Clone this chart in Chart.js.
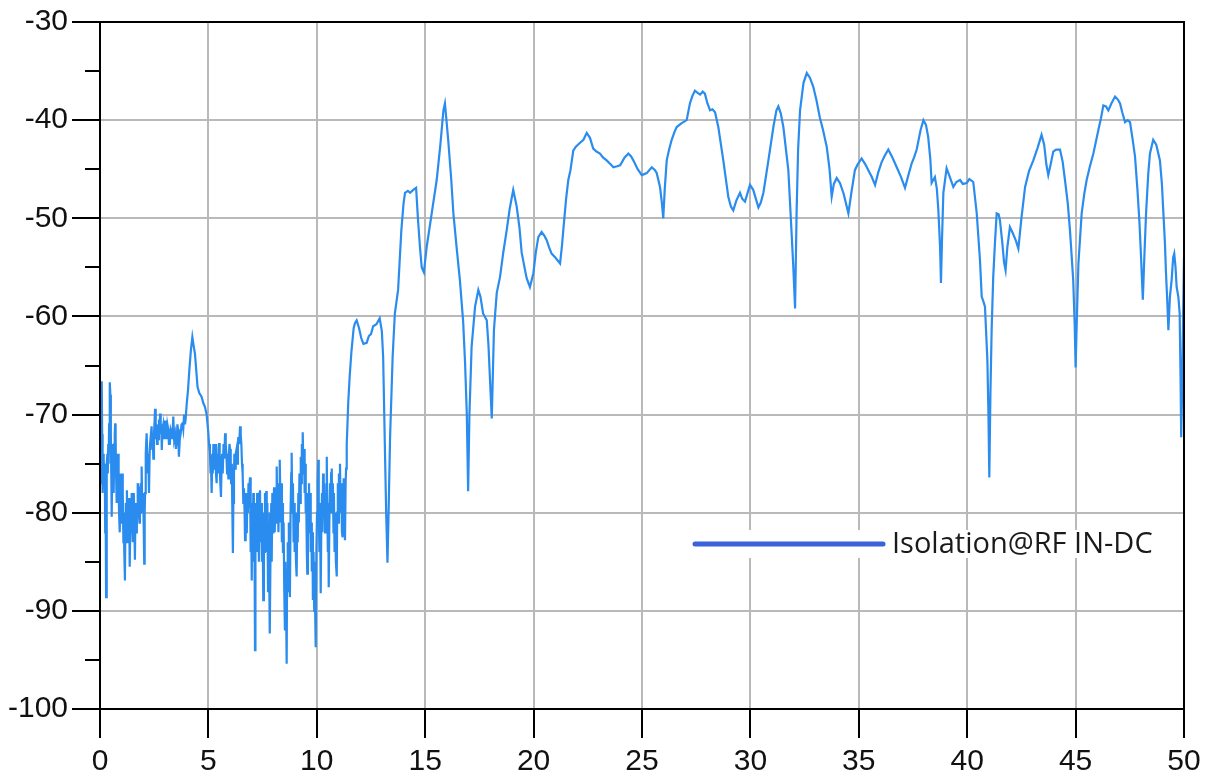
<!DOCTYPE html>
<html>
<head>
<meta charset="utf-8">
<script src="https://cdn.jsdelivr.net/npm/chart.js@4.4.1/dist/chart.umd.min.js"></script>
<style>
html,body{margin:0;padding:0;background:#fff;}
canvas{display:block;}
</style>
</head>
<body>
<canvas id="c" width="1216" height="776"></canvas>
<script>
// ---- data ----
const seriesLabel = "Isolation@RF IN-DC";
const xTicks = [0, 5, 10, 15, 20, 25, 30, 35, 40, 45, 50];
const yTicks = [-100, -90, -80, -70, -60, -50, -40, -30];
const yMinorTicks = [-95, -85, -75, -65, -55, -45, -35];

const freqGHz = [
0.00,0.02,0.04,0.06,0.08,0.10,0.12,0.14,0.16,0.18,
0.20,0.22,0.24,0.26,0.28,0.30,0.32,0.34,0.36,0.38,
0.40,0.42,0.44,0.46,0.48,0.50,0.52,0.54,0.56,0.58,
0.60,0.62,0.64,0.66,0.68,0.70,0.72,0.74,0.76,0.78,
0.80,0.82,0.84,0.86,0.88,0.90,0.92,0.94,0.96,0.98,
1.00,1.02,1.04,1.06,1.08,1.10,1.12,1.15,1.17,1.19,
1.21,1.24,1.26,1.28,1.30,1.32,1.34,1.36,1.38,1.40,
1.42,1.44,1.46,1.48,1.50,1.52,1.54,1.56,1.58,1.61,
1.63,1.65,1.67,1.70,1.72,1.74,1.77,1.79,1.82,1.84,
1.86,1.88,1.90,1.92,1.94,1.97,1.99,2.02,2.04,2.06,
2.08,2.10,2.12,2.15,2.18,2.20,2.23,2.26,2.29,2.31,
2.38,2.41,2.43,2.46,2.49,2.52,2.54,2.57,2.60,2.63,
2.66,2.69,2.72,2.75,2.77,2.80,2.83,2.85,2.88,2.92,
2.96,3.00,3.04,3.07,3.11,3.15,3.18,3.22,3.26,3.30,
3.34,3.38,3.42,3.46,3.50,3.54,3.57,3.60,3.64,3.68,
3.72,3.76,3.80,3.84,3.88,3.92,3.95,4.00,4.06,4.12,
4.19,4.26,4.32,4.38,4.44,4.50,4.58,4.69,4.76,4.84,
4.92,4.97,5.00,
5.03,5.07,5.10,5.12,5.15,5.18,5.20,5.23,5.26,5.29,
5.32,5.35,5.38,5.41,5.44,5.47,5.49,5.52,5.55,5.58,
5.61,5.63,5.66,5.70,5.73,5.77,5.80,5.83,5.86,5.89,
5.92,5.95,5.97,6.00,6.03,6.05,6.08,6.10,6.13,6.15,
6.18,6.20,6.23,6.26,6.30,6.33,6.36,6.38,6.42,6.46,
6.49,6.52,6.55,6.58,6.61,6.64,6.67,6.69,6.71,6.73,
6.75,6.77,6.80,6.82,6.85,6.87,
6.90,6.92,6.95,6.97,7.00,7.02,7.05,7.07,7.10,7.12,
7.15,7.17,7.20,7.22,7.25,7.27,7.30,7.33,7.36,7.38,
7.41,7.44,7.47,7.50,7.53,7.56,7.58,7.61,7.64,7.67,
7.69,7.72,7.75,7.78,7.80,7.82,7.84,7.87,7.90,7.92,
7.95,7.98,8.00,8.03,8.06,8.09,8.12,8.15,8.18,8.20,
8.23,8.26,8.28,8.30,8.33,8.36,8.39,8.41,8.44,8.47,
8.50,8.53,8.55,8.58,8.61,8.63,8.66,8.69,8.71,8.74,
8.76,8.79,8.82,8.84,8.87,8.90,8.93,8.95,8.98,9.01,
9.04,9.07,9.10,9.12,9.15,9.17,9.20,9.23,9.26,9.28,
9.31,9.33,9.35,9.38,9.41,9.44,9.46,9.49,9.51,9.54,
9.56,9.59,9.62,9.64,9.67,9.69,9.72,9.75,9.77,9.80,
9.82,9.85,9.88,9.90,9.93,9.95,9.98,10.01,10.04,10.07,
10.09,10.12,10.15,10.18,10.21,10.24,10.26,10.29,10.32,10.35,
10.38,10.40,10.43,10.46,10.48,10.51,10.53,10.55,10.58,10.61,
10.63,10.66,10.69,10.71,10.74,10.77,10.79,10.82,10.85,10.88,
10.92,10.94,10.97,11.00,11.02,11.05,11.07,11.10,11.13,11.16,
11.19,11.21,11.24,11.27,11.30,11.33,11.35,11.38,11.40,
11.45,11.52,11.60,11.70,11.76,11.84,11.95,12.05,
12.15,12.30,12.40,12.50,12.60,12.75,12.90,13.00,13.06,13.14,13.20,13.26,13.32,13.38,13.50,13.60,13.75,13.90,14.00,14.07,
14.20,14.30,14.45,14.58,14.67,14.76,14.84,14.94,15.07,15.30,15.53,15.70,15.84,15.91,15.98,16.06,16.20,16.30,16.45,16.60,
16.75,16.84,16.92,16.98,17.04,17.14,17.30,17.45,17.55,17.67,17.84,17.92,17.99,18.07,18.12,18.17,18.30,18.45,18.60,18.76,
18.90,19.06,19.22,19.35,19.45,19.58,19.68,19.83,19.99,20.10,20.22,20.37,20.50,20.60,20.72,20.83,21.00,21.22,21.30,21.37,
21.50,21.60,21.70,21.83,21.95,22.14,22.30,22.45,22.60,22.75,22.90,23.06,23.20,23.37,23.55,23.68,23.85,23.99,24.20,24.37,
24.50,24.60,24.80,24.99,25.10,25.22,25.45,25.60,25.68,25.83,25.92,25.98,26.05,26.14,26.25,26.37,26.50,26.60,26.83,27.06,
27.21,27.33,27.44,27.55,27.68,27.80,27.90,28.02,28.14,28.25,28.37,28.52,28.75,28.98,29.10,29.21,29.35,29.52,29.62,29.75,
29.98,30.13,30.25,30.37,30.48,30.60,30.83,31.06,31.20,31.29,31.40,31.52,31.75,31.90,31.98,32.06,32.13,32.20,32.29,32.45,
32.60,32.75,32.90,33.05,33.20,33.35,33.52,33.65,33.75,33.85,33.98,34.13,34.30,34.52,34.65,34.82,34.95,35.13,35.30,35.44,
35.60,35.75,35.90,36.05,36.20,36.36,36.55,36.75,36.95,37.13,37.30,37.44,37.55,37.67,37.85,37.98,38.10,38.20,38.30,38.36,
38.51,38.60,38.67,38.75,38.79,38.84,38.90,39.05,39.20,39.36,39.50,39.67,39.80,39.98,40.10,40.28,40.44,40.59,40.67,40.75,
40.82,40.93,40.98,41.02,41.07,41.13,41.20,41.28,41.36,41.45,41.51,41.62,41.70,41.77,41.85,41.97,42.10,42.25,42.36,42.50,
42.67,42.85,43.05,43.25,43.43,43.55,43.65,43.74,43.85,43.97,44.10,44.28,44.40,44.51,44.64,44.74,44.89,44.96,45.00,45.06,
45.13,45.28,45.40,45.51,45.65,45.82,46.05,46.17,46.28,46.40,46.51,46.65,46.82,46.95,47.05,47.15,47.28,47.40,47.51,47.62,
47.74,47.85,47.94,48.02,48.10,48.17,48.25,48.35,48.43,48.58,48.72,48.89,48.98,49.05,49.12,49.17,49.23,49.28,49.35,49.43,
49.50,49.55,49.61,49.66,49.74,49.80,49.84,49.87,49.91,49.96,50.00
];

const isolationDb = [
-70.5,-76,-73,-77,-66.6,-72,-78,-74,-76,-74.5,
-77,-75,-82,-79,-88.6,-80,-75,-74,-76,-73,
-75,-71,-69,-66.7,-68,-72,-76,-80.4,-76,-73,
-77,-74,-78,-73,-72,-70.9,-72,-76,-74,-79,
-75,-78,-74,-77,-80,-76,-82,-78,-76,-81,
-79,-76,-81,-78,-83,-80,-84,-86.9,-81,-79,
-83,-77.7,-81,-79,-83,-80,-78.5,-82,-85.5,-81,
-79,-82,-78,-80,-83,-79,-81,-78,-80,-84.8,
-81,-79,-82,-79,-80,-77,-77.4,-80,-81,-78,
-80,-77,-79,-75.3,-78,-80,-78,-82,-85.2,-80,
-78,-76,-74,-71.9,-74,-76,-74,-78,-74,-73,
-71.2,-73.5,-72,-74.5,-72,-70.5,-69.4,-72.5,-71,-73,
-71,-72.5,-70.5,-72,-69.9,-72,-71,-73.6,-71.5,-71,
-72.5,-70.6,-72,-72.5,-71,-71.5,-73,-73,-71.5,-71.8,
-72.5,-70.2,-72.5,-72,-73.5,-72.6,-71,-71.5,-74.3,-72.5,
-72,-71,-70.9,-71.5,-70,-71,-70.5,-68.9,-67.5,-65.5,
-63.5,-62.1,-63,-63.8,-65.5,-67.2,-67.8,-68.2,-68.8,-69.2,
-70,-71.2,-72,
-73,-73.9,-76,-75,-78,-74,-76,-73,-75.5,-74,
-73,-76,-77,-74,-76,-73.5,-72.9,-75,-77,-78.4,
-75,-74,-76,-73,-74.5,-71.9,-73,-74,-76,-74,
-76.5,-74,-73,-73.5,-76,-77,-75,-79,-84.1,-79,
-76,-74,-75.5,-74,-73.5,-75,-73,-72.3,-73,-71.2,
-72,-73,-75,-76,-79,-77.5,-80,-82.8,-78,-80,
-78,-82.1,-78,-80,-77,-79.5,
-77,-76.4,-84,-80,-86.9,-79,-83,-78,-85,-80,
-94,-84,-79,-83,-78,-84,-80,-85,-78,-77.7,
-83,-79,-85,-81,-88.9,-80,-84,-78,-82,-77.8,
-84,-79,-88,-81,-85,-80,-92.3,-83,-79,-85,
-78,-82,-79,-77.4,-82,-78,-81,-75.3,-80,-77,
-82,-78,-81,-74.6,-80,-77,-83,-79,-84.1,-81,
-88,-92,-85,-89,-95.4,-86,-83,-88,-81,-86,
-88.6,-80,-76,-73.9,-80,-77,-83,-79,-84,-80,
-85,-86.5,-80,-83,-78,-81,-76,-79,-74.3,-77,
-73,-76,-71.8,-75,-73.5,-78,-75,-80,-78,-84,
-86.2,-79,-82,-77,-81,-78,-84,-81,-86,-82,
-88.9,-84,-90,-85,-91,-93.7,-84,-80,-77,-74.6,
-80,-84,-79,-88.2,-81,-78,-82,-76,-80,-77,
-82,-78,-81,-74.3,-79,-84,-80,-87.6,-81,-77,
-80,-76,-75.5,-80,-77,-82,-78,-84,-80,-85,
-86.5,-80,-77,-81,-76,-79,-75,-80,-77,-82,
-82.5,-78,-76.5,-81,-82.8,-77,-75.5,-73,-71.9,
-68.8,-66,-63.5,-61.2,-60.7,-60.4,-61.2,-62.2,
-62.8,-62.7,-62,-61.8,-61,-60.8,-60.2,-61.5,-64.1,-73.3,-80,-85.1,-79,-72.3,-64,-59.7,-57.3,-51.2,-48.5,-47.4,
-47.2,-47.4,-47.1,-46.9,-50.2,-53,-55,-55.5,-52.9,-49.5,-46.1,-42.5,-39.0,-38.3,-40,-42,-46,-49.5,-53,-56.3,
-60.5,-64.8,-70,-77.8,-70,-63.1,-59,-57.3,-58,-59.7,-60.4,-63,-66.5,-70.4,-66,-61.4,-57.6,-56,-53.5,-51.2,
-49,-47.1,-48.8,-51,-53.5,-55,-56.1,-57,-55.6,-53.5,-51.9,-51.4,-51.8,-52.2,-53,-53.6,-54,-54.6,-53,-51.2,
-48,-46.1,-45.1,-43.1,-42.7,-42.3,-42,-41.3,-41.8,-42.9,-43.2,-43.4,-43.8,-44.1,-44.5,-44.8,-44.7,-44.6,-43.8,-43.4,
-43.7,-44.1,-45,-45.6,-45.5,-45.4,-44.8,-45.1,-45.4,-46.8,-48.5,-50,-47,-44.1,-43,-42,-41.2,-40.7,-40.3,-40,
-38.3,-37.5,-37,-37.2,-37.4,-37.1,-37.3,-38.3,-39,-38.9,-39.2,-40.7,-44.1,-47.8,-48.8,-49.2,-48.2,-47.4,-48,-48.3,
-46.6,-47.1,-48,-48.9,-48.4,-47.4,-44.1,-40.7,-39,-38.6,-39.3,-40.7,-45.1,-51.5,-55,-59.2,-49.5,-43,-39,-36.2,
-35.2,-35.7,-36.6,-38,-39.7,-41,-42.7,-45,-47.8,-46.5,-45.9,-46.4,-47.5,-49.5,-47.5,-45.1,-44.5,-43.9,-44.5,-45.1,
-45.8,-46.6,-45.3,-44.3,-43.6,-43.0,-43.8,-44.8,-45.8,-46.9,-45.5,-44.4,-43.8,-43,-41,-40,-40.5,-41.7,-44,-46.4,
-45.8,-47,-49.2,-53,-56.6,-52,-47.4,-44.9,-45.8,-46.8,-46.3,-46.1,-46.5,-46.4,-46,-46.3,-49.5,-54.3,-58,-58.5,
-59,-64.4,-70,-76.4,-68,-61.1,-56,-52.5,-49.5,-49.6,-50.2,-52.5,-54.5,-55.3,-53,-50.9,-51.5,-52.3,-53.1,-50,
-46.8,-45.2,-44.1,-42.8,-41.5,-42.5,-44.5,-45.6,-44.5,-43.2,-43,-43,-44.2,-46.1,-48.5,-51.2,-56.3,-61,-65.2,-60,
-54.6,-49.5,-47.5,-46.1,-44.8,-43.4,-41,-39.8,-38.5,-38.6,-39,-38.3,-37.6,-37.9,-38.3,-39.2,-40.2,-40,-40.2,-41.8,
-43.7,-47,-50.2,-54,-58.3,-54,-49.5,-45.5,-43.4,-42,-42.5,-44.1,-46.5,-49.5,-52.5,-55.6,-58.5,-61.4,-58,-56.3,
-54,-53.6,-55,-57,-58,-59.7,-66,-72.3,-68,-59.7,-54
];

// ---- styles ----
const LINE_COLOR = '#2a8cee';
const LEGEND_COLOR = '#3b62dc';
const GRID_COLOR = '#b9b9b9';
const TICK_FONT = {family: "'Liberation Sans', Arial, sans-serif", size: 30};

const points = freqGHz.map((f, i) => ({x: f, y: isolationDb[i]}));

const frameAndTicks = {
  id: 'frameAndTicks',
  afterDraw(chart) {
    const ctx = chart.ctx;
    const a = chart.chartArea;
    const xs = chart.scales.x, ys = chart.scales.y;
    ctx.save();
    // legend background and entry
    const ly = 544;
    ctx.fillStyle = '#fff';
    ctx.fillRect(680, 530, 490, 28);
    ctx.strokeStyle = LEGEND_COLOR;
    ctx.lineWidth = 5;
    ctx.lineCap = 'round';
    ctx.beginPath();
    ctx.moveTo(695, ly); ctx.lineTo(883, ly);
    ctx.stroke();
    ctx.fillStyle = '#1a1a1a';
    ctx.font = "29px 'Open Sans', 'Noto Sans', sans-serif";
    ctx.textBaseline = 'middle';
    ctx.textAlign = 'left';
    ctx.fillText(chart.data.datasets[0].label, 892, ly + 1);

    // frame and tick marks
    ctx.lineCap = 'butt';
    ctx.strokeStyle = '#000';
    ctx.lineWidth = 2;
    ctx.strokeRect(a.left, a.top, a.right - a.left, a.bottom - a.top);
    ctx.beginPath();
    xTicks.forEach(v => {
      const px = Math.round(xs.getPixelForValue(v));
      ctx.moveTo(px, a.bottom); ctx.lineTo(px, a.bottom + 29);
    });
    yTicks.forEach(v => {
      const py = Math.round(ys.getPixelForValue(v));
      ctx.moveTo(a.left - 28, py); ctx.lineTo(a.left, py);
    });
    yMinorTicks.forEach(v => {
      const py = Math.round(ys.getPixelForValue(v));
      ctx.moveTo(a.left - 15, py); ctx.lineTo(a.left, py);
    });
    ctx.stroke();
    ctx.restore();
  }
};

new Chart(document.getElementById('c'), {
  type: 'line',
  data: {
    datasets: [{
      label: seriesLabel,
      data: points,
      borderColor: LINE_COLOR,
      borderWidth: 2.2,
      pointRadius: 0,
      tension: 0,
      fill: false
    }]
  },
  options: {
    responsive: false,
    animation: false,
    devicePixelRatio: 1,
    layout: {padding: {left: 0, right: 32, top: 22, bottom: 0}},
    plugins: {legend: {display: false}, tooltip: {enabled: false}},
    scales: {
      x: {
        type: 'linear',
        min: 0, max: 50,
        afterBuildTicks: s => { s.ticks = xTicks.map(v => ({value: v})); },
        afterFit: s => { s.height = 67; s.paddingLeft = 0; s.paddingRight = 0; },
        grid: {color: GRID_COLOR, lineWidth: 2, drawTicks: false},
        border: {display: true, color: '#000', width: 2},
        ticks: {font: TICK_FONT, color: '#111', padding: 35, maxRotation: 0, autoSkip: false}
      },
      y: {
        type: 'linear',
        min: -100, max: -30,
        afterBuildTicks: s => { s.ticks = yTicks.map(v => ({value: v})); },
        afterFit: s => { s.width = 100; s.paddingTop = 0; s.paddingBottom = 0; },
        grid: {color: GRID_COLOR, lineWidth: 2, drawTicks: false},
        border: {display: true, color: '#000', width: 2},
        ticks: {font: TICK_FONT, color: '#111', padding: 32, autoSkip: false}
      }
    }
  },
  plugins: [frameAndTicks]
});
</script>
</body>
</html>
